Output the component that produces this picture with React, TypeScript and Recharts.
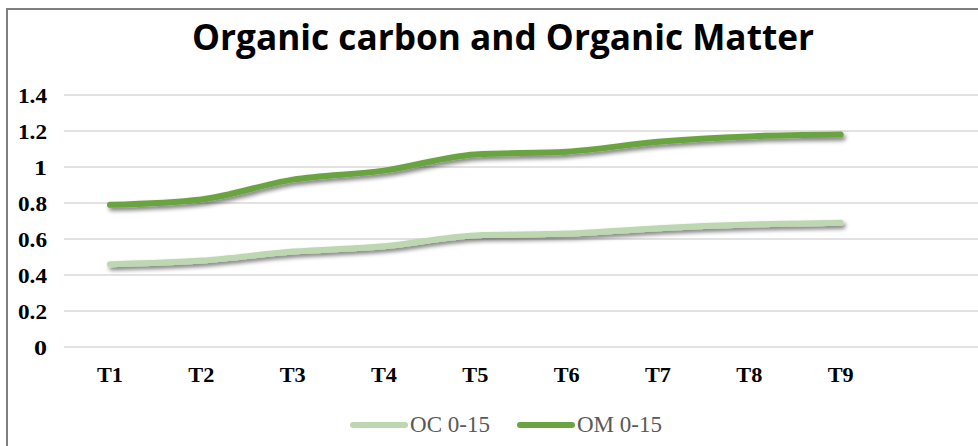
import React from "react";
import { LineChart, Line, XAxis, YAxis, CartesianGrid, Legend } from "recharts";

const categories = ["T1", "T2", "T3", "T4", "T5", "T6", "T7", "T8", "T9", ""];
const ocValues = [0.46, 0.48, 0.53, 0.56, 0.62, 0.63, 0.66, 0.68, 0.69, null];
const omValues = [0.79, 0.82, 0.93, 0.98, 1.07, 1.085, 1.14, 1.17, 1.18, null];
const yTicks = [0, 0.2, 0.4, 0.6, 0.8, 1, 1.2, 1.4];
const title = "Organic carbon and Organic Matter";

const data = categories.map((c, i) => ({ name: c, oc: ocValues[i], om: omValues[i] }));

const W = 978;
const H = 446;

const LegendContent = (props: any) => {
  const { payload } = props;
  return (
    <div style={{ display: "flex", justifyContent: "center", alignItems: "center" }}>
      {(payload || []).map((p: any, i: number) => (
        <div key={i} style={{ display: "flex", alignItems: "center", marginLeft: i === 0 ? 0 : 27 }}>
          <span style={{ display: "inline-block", width: 58, height: 6, borderRadius: 3, background: p.color, marginRight: 2 }} />
          <span style={{ fontFamily: "'Liberation Serif', serif", fontSize: 23, color: "#595959" }}>{p.value}</span>
        </div>
      ))}
    </div>
  );
};

const YTick = (props: any) => {
  const { x, y, payload } = props;
  return (
    <text x={x} y={y} dy="0.35em" textAnchor="end" fill="#000" fontFamily="'Liberation Serif', serif" fontWeight={700} fontSize={22} textLength={String(payload.value).length === 1 ? 13 : 29} lengthAdjust="spacingAndGlyphs">
      {payload.value}
    </text>
  );
};

const XTick = (props: any) => {
  const { x, y, payload } = props;
  return (
    <text x={x} y={y} dy="0.71em" textAnchor="middle" fill="#000" fontFamily="'Liberation Serif', serif" fontWeight={700} fontSize={21} textLength={payload.value ? 26 : undefined} lengthAdjust="spacingAndGlyphs">
      {payload.value}
    </text>
  );
};

export default function App() {
  return (
    <div style={{ position: "absolute", left: 0, top: 0, width: W, height: H, background: "#fff", overflow: "hidden" }}>
      <div style={{ position: "absolute", left: 6, top: 8, width: W, height: H, borderTop: "2px solid #7f7f7f", borderLeft: "2px solid #7f7f7f" }} />
      <svg style={{ position: "absolute", left: 0, top: 0 }} width={W} height={70}>
        <text x={192} y={50} textLength={622} lengthAdjust="spacingAndGlyphs" fontFamily="'Open Sans', sans-serif" fontWeight={700} fontSize={35} fill="#000">
          {title}
        </text>
      </svg>
      <div style={{ position: "absolute", left: 0, top: 0 }}>
        <LineChart width={W} height={H} data={data} margin={{ top: 95, right: 0, bottom: 69, left: 7 }}>
          <defs>
            <filter id="shadow" x="-10%" y="-50%" width="120%" height="200%">
              <feGaussianBlur in="SourceAlpha" stdDeviation="2" />
              <feOffset dx="2" dy="3" result="ob" />
              <feComponentTransfer>
                <feFuncA type="linear" slope="0.5" />
              </feComponentTransfer>
              <feMerge>
                <feMergeNode />
                <feMergeNode in="SourceGraphic" />
              </feMerge>
            </filter>
          </defs>
          <CartesianGrid vertical={false} stroke="#d9d9d9" strokeWidth={1.5} />
          <XAxis
            dataKey="name"
            axisLine={false}
            tickLine={false}
            height={30}
            tickMargin={14}
            interval={0}
            padding={{ left: 46, right: 46 }}
            tick={<XTick />}
          />
          <YAxis
            width={57}
            domain={[0, 1.4]}
            ticks={yTicks}
            axisLine={false}
            tickLine={false}
            tickMargin={11}
            tick={<YTick />}
          />
          <Legend
            verticalAlign="middle"
            align="center"
            content={<LegendContent />}
            wrapperStyle={{ top: 412, left: 0, width: 1012 }}
          />
          <Line
            type="monotone"
            dataKey="oc"
            name="OC 0-15"
            stroke="#bdd7b1"
            strokeWidth={6}
            strokeLinecap="round"
            dot={false}
            activeDot={false}
            filter="url(#shadow)"
            isAnimationActive={false}
          />
          <Line
            type="monotone"
            dataKey="om"
            name="OM 0-15"
            stroke="#6aa43f"
            strokeWidth={6}
            strokeLinecap="round"
            dot={false}
            activeDot={false}
            filter="url(#shadow)"
            isAnimationActive={false}
          />
        </LineChart>
      </div>
    </div>
  );
}
